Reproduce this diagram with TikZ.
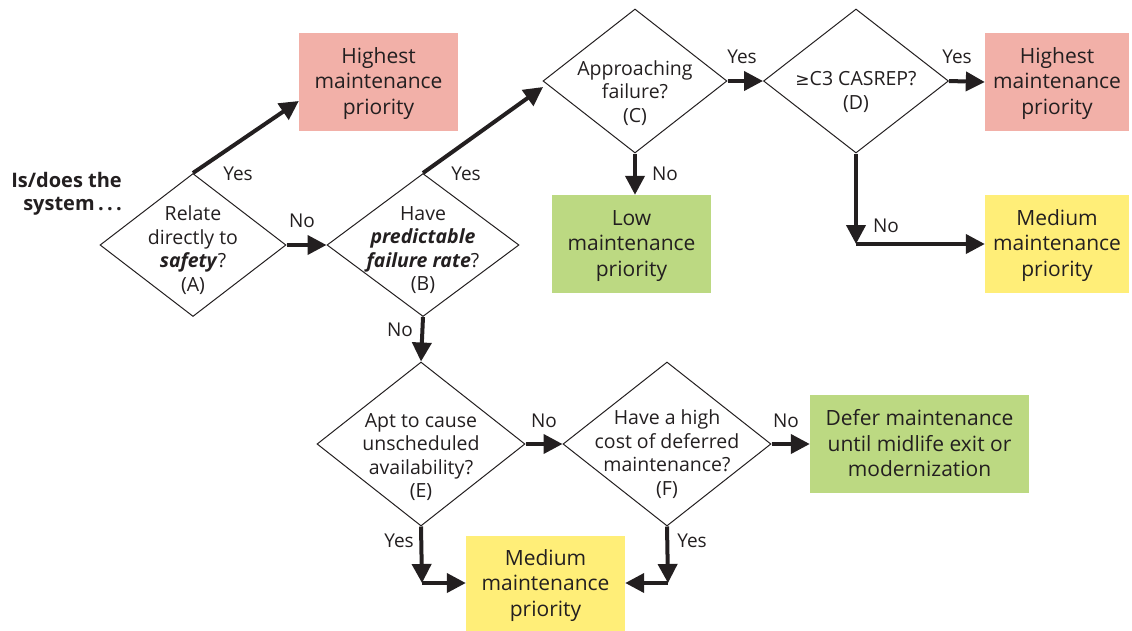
\documentclass[tikz,border=0pt]{standalone}
\usepackage{fontspec}
\setmainfont{Open Sans}
\newfontfamily\symfont{DejaVu Sans}
\usetikzlibrary{shapes.geometric,arrows.meta}
\definecolor{pinkbox}{HTML}{F2B0A8}
\definecolor{greenbox}{HTML}{BCD982}
\definecolor{yellowbox}{HTML}{FFEE78}
\definecolor{ink}{HTML}{231F20}
\tikzset{
  dec/.style={draw=ink, line width=1pt, diamond, inner sep=0pt},
  dectext/.style={text=ink, inner sep=0pt, font=\fontsize{19.5}{23.5}\selectfont, align=center},
  outbox/.style={inner sep=0pt, text=ink, font=\fontsize{21}{25.5}\selectfont, align=center, text depth=2pt},
  flow/.style={draw=ink, line width=4pt, -{Triangle[length=19pt,width=19pt]}},
  lbl/.style={text=ink, font=\fontsize{19}{22}\selectfont, inner sep=0pt}
}
\begin{document}
\begin{tikzpicture}[x=1pt,y=-1pt]
\useasboundingbox (0,0) rectangle (1132,630);
% decisions
\node[dec, minimum width=186pt, minimum height=143pt] (A) at (193,245) {};
\node[dectext] (At) at (193,250) {Relate\\directly to\\\textbf{\textit{safety}}?\\(A)};
\node[dec, minimum width=192pt, minimum height=143pt] (B) at (423,245) {};
\node[dectext] (Bt) at (423,250) {Have\\\textbf{\textit{predictable}}\\\textbf{\textit{failure rate}}?\\(B)};
\node[dec, minimum width=184pt, minimum height=144pt] (C) at (635,81) {};
\node[dectext] (Ct) at (635,93) {Approaching\\failure?\\(C)};
\node[dec, minimum width=185pt, minimum height=144pt] (D) at (856,81) {};
\node[dectext] (Dt) at (856,92) {{\symfont\fontsize{17}{20}\selectfont ≥}C3 CASREP?\\(D)};
\node[dec, minimum width=208pt, minimum height=164pt] (E) at (421,444) {};
\node[dectext] (Et) at (421,457) {Apt to cause\\unscheduled\\availability?\\(E)};
\node[dec, minimum width=208pt, minimum height=164pt] (F) at (667,444) {};
\node[dectext] (Ft) at (667,454) {Have a high\\cost of deferred\\maintenance?\\(F)};
% outcome boxes
\node[outbox, fill=pinkbox, minimum width=159pt, minimum height=98pt] (H1) at (378.5,82) {Highest\\maintenance\\priority};
\node[outbox, fill=pinkbox, minimum width=144pt, minimum height=98pt] (H2) at (1057,82) {Highest\\maintenance\\priority};
\node[outbox, fill=greenbox, minimum width=159pt, minimum height=98pt] (L) at (631.5,244) {Low\\maintenance\\priority};
\node[outbox, fill=yellowbox, minimum width=144pt, minimum height=98pt] (M1) at (1057,244) {Medium\\maintenance\\priority};
\node[outbox, fill=greenbox, minimum width=219pt, minimum height=98pt] (DF) at (919.5,444) {Defer maintenance\\until midlife exit or\\modernization};
\node[outbox, fill=yellowbox, minimum width=159pt, minimum height=96pt] (M2) at (545.5,584) {Medium\\maintenance\\priority};
% intro text
\node[text=ink, font=\bfseries\fontsize{20}{23}\selectfont, align=right, anchor=east, inner sep=0pt] (intro) at (122,194) {Is/does the\\system\,.\,.\,.};
% corner coordinates
\coordinate (Dc) at (856,244);
\coordinate (Ec) at (422,583);
\coordinate (Fc) at (668,583);
% connectors
\draw[flow] (A.north) -- (H1.west |- 0,101) coordinate (h1in);
\draw[flow] (A.east) -- (B.west);
\draw[flow] (B.north) -- (543,87) coordinate (cin);
\draw[flow] (C.east) -- (D.west);
\draw[flow] (D.east) -- (H2.west);
\draw[flow] (C.south) -- (L.north -| C.south);
\draw[flow] (D.south) -- (Dc);
\draw[flow] (Dc) -- (M1.west);
\draw[flow] (B.south) -- (E.north);
\draw[flow] (E.east) -- (F.west);
\draw[flow] (F.east) -- (DF.west);
\draw[flow] (E.south) -- (Ec);
\draw[flow] (Ec) -- (M2.west |- Ec);
\draw[flow] (F.south) -- (Fc);
\draw[flow] (Fc) -- (M2.east |- Fc);
% labels
\node[lbl] (l1) at (238,174) {Yes};
\node[lbl] (l2) at (302,221) {No};
\node[lbl] (l3) at (466,174) {Yes};
\node[lbl] (l4) at (742,57) {Yes};
\node[lbl] (l5) at (957,57) {Yes};
\node[lbl] (l6) at (665,174) {No};
\node[lbl] (l7) at (886,226) {No};
\node[lbl] (l8) at (400,330) {No};
\node[lbl] (l9) at (544,421) {No};
\node[lbl] (l10) at (786,421) {No};
\node[lbl] (l11) at (399,541) {Yes};
\node[lbl] (l12) at (692,541) {Yes};
\end{tikzpicture}
\end{document}
